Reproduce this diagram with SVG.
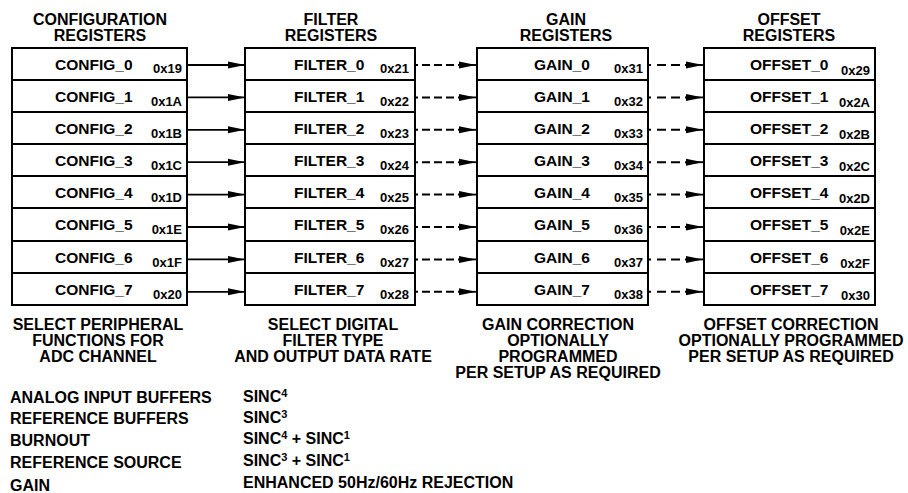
<svg xmlns="http://www.w3.org/2000/svg" width="908" height="493" viewBox="0 0 908 493">
<style>
text{font-family:"Liberation Sans",Arial,sans-serif;font-weight:bold;fill:#000}
.t{font-size:16px;text-anchor:middle}
.n{font-size:15.5px}
.h{font-size:13px;text-anchor:end}
.b{font-size:16px}
.sup{font-size:11px}
.box{fill:#fff;stroke:#000;stroke-width:2}
.div{stroke:#000;stroke-width:2}
.sol{stroke:#000;stroke-width:1.8;fill:none}
.dsh{stroke:#000;stroke-width:2;fill:none;stroke-dasharray:8 4;stroke-dashoffset:5}
.dsh2{stroke:#000;stroke-width:2;fill:none;stroke-dasharray:3 6 9 5 9 5}
</style>
<defs>
<marker id="ah" markerWidth="17" markerHeight="8" refX="17" refY="4" orient="auto" markerUnits="userSpaceOnUse">
<path d="M0,0.5 L17,4 L0,7.5 Z" fill="#000"/>
</marker>
</defs>

<g id="titles">
<text class="t" x="100" y="25">CONFIGURATION</text>
<text class="t" x="100" y="41">REGISTERS</text>
<text class="t" x="331" y="25">FILTER</text>
<text class="t" x="331" y="41">REGISTERS</text>
<text class="t" x="566" y="25">GAIN</text>
<text class="t" x="566" y="41">REGISTERS</text>
<text class="t" x="789" y="25">OFFSET</text>
<text class="t" x="789" y="41">REGISTERS</text>
</g>

<g id="config">
<rect class="box" x="12" y="48" width="175" height="257"/>
<path class="div" d="M12,80H187M12,112H187M12,144H187M12,176H187M12,208H187M12,241H187M12,273H187"/>
<text class="n" x="55" y="70">CONFIG_0</text><text class="h" x="182" y="73">0x19</text>
<text class="n" x="55" y="102">CONFIG_1</text><text class="h" x="182" y="106">0x1A</text>
<text class="n" x="55" y="134">CONFIG_2</text><text class="h" x="182" y="138">0x1B</text>
<text class="n" x="55" y="166">CONFIG_3</text><text class="h" x="182" y="170">0x1C</text>
<text class="n" x="55" y="198">CONFIG_4</text><text class="h" x="182" y="202">0x1D</text>
<text class="n" x="55" y="230">CONFIG_5</text><text class="h" x="182" y="234">0x1E</text>
<text class="n" x="55" y="263">CONFIG_6</text><text class="h" x="182" y="267">0x1F</text>
<text class="n" x="55" y="295">CONFIG_7</text><text class="h" x="182" y="299">0x20</text>
</g>

<g id="filter">
<rect class="box" x="245" y="48" width="170" height="257"/>
<path class="div" d="M245,80H415M245,112H415M245,144H415M245,176H415M245,208H415M245,241H415M245,273H415"/>
<text class="n" x="294" y="70">FILTER_0</text><text class="h" x="409" y="73">0x21</text>
<text class="n" x="294" y="102">FILTER_1</text><text class="h" x="409" y="106">0x22</text>
<text class="n" x="294" y="134">FILTER_2</text><text class="h" x="409" y="138">0x23</text>
<text class="n" x="294" y="166">FILTER_3</text><text class="h" x="409" y="170">0x24</text>
<text class="n" x="294" y="198">FILTER_4</text><text class="h" x="409" y="202">0x25</text>
<text class="n" x="294" y="230">FILTER_5</text><text class="h" x="409" y="234">0x26</text>
<text class="n" x="294" y="263">FILTER_6</text><text class="h" x="409" y="267">0x27</text>
<text class="n" x="294" y="295">FILTER_7</text><text class="h" x="409" y="299">0x28</text>
</g>

<g id="gain">
<rect class="box" x="477" y="48" width="171" height="257"/>
<path class="div" d="M477,80H648M477,112H648M477,144H648M477,176H648M477,208H648M477,241H648M477,273H648"/>
<text class="n" x="534" y="70">GAIN_0</text><text class="h" x="643" y="73">0x31</text>
<text class="n" x="534" y="102">GAIN_1</text><text class="h" x="643" y="106">0x32</text>
<text class="n" x="534" y="134">GAIN_2</text><text class="h" x="643" y="138">0x33</text>
<text class="n" x="534" y="166">GAIN_3</text><text class="h" x="643" y="170">0x34</text>
<text class="n" x="534" y="198">GAIN_4</text><text class="h" x="643" y="202">0x35</text>
<text class="n" x="534" y="230">GAIN_5</text><text class="h" x="643" y="234">0x36</text>
<text class="n" x="534" y="263">GAIN_6</text><text class="h" x="643" y="267">0x37</text>
<text class="n" x="534" y="295">GAIN_7</text><text class="h" x="643" y="299">0x38</text>
</g>

<g id="offset">
<rect class="box" x="704" y="48" width="171" height="257"/>
<path class="div" d="M704,80H875M704,112H875M704,144H875M704,176H875M704,208H875M704,241H875M704,273H875"/>
<text class="n" x="750" y="70">OFFSET_0</text><text class="h" x="870" y="75">0x29</text>
<text class="n" x="750" y="102">OFFSET_1</text><text class="h" x="870" y="107">0x2A</text>
<text class="n" x="750" y="134">OFFSET_2</text><text class="h" x="870" y="139">0x2B</text>
<text class="n" x="750" y="166">OFFSET_3</text><text class="h" x="870" y="171">0x2C</text>
<text class="n" x="750" y="198">OFFSET_4</text><text class="h" x="870" y="203">0x2D</text>
<text class="n" x="750" y="230">OFFSET_5</text><text class="h" x="870" y="235">0x2E</text>
<text class="n" x="750" y="263">OFFSET_6</text><text class="h" x="870" y="268">0x2F</text>
<text class="n" x="750" y="295">OFFSET_7</text><text class="h" x="870" y="300">0x30</text>
</g>

<g id="connectors">
<path class="sol" marker-end="url(#ah)" d="M187,65H245"/>
<path class="sol" marker-end="url(#ah)" d="M187,97.4H245"/>
<path class="sol" marker-end="url(#ah)" d="M187,129.8H245"/>
<path class="sol" marker-end="url(#ah)" d="M187,162.2H245"/>
<path class="sol" marker-end="url(#ah)" d="M187,194.6H245"/>
<path class="sol" marker-end="url(#ah)" d="M187,227H245"/>
<path class="sol" marker-end="url(#ah)" d="M187,259.4H245"/>
<path class="sol" marker-end="url(#ah)" d="M187,291.8H245"/>

<path class="dsh" d="M415,65H459"/><path class="sol" marker-end="url(#ah)" d="M459,65H476"/>
<path class="dsh" d="M415,97.4H459"/><path class="sol" marker-end="url(#ah)" d="M459,97.4H476"/>
<path class="dsh" d="M415,129.8H459"/><path class="sol" marker-end="url(#ah)" d="M459,129.8H476"/>
<path class="dsh" d="M415,162.2H459"/><path class="sol" marker-end="url(#ah)" d="M459,162.2H476"/>
<path class="dsh" d="M415,194.6H459"/><path class="sol" marker-end="url(#ah)" d="M459,194.6H476"/>
<path class="dsh" d="M415,227H459"/><path class="sol" marker-end="url(#ah)" d="M459,227H476"/>
<path class="dsh" d="M415,259.4H459"/><path class="sol" marker-end="url(#ah)" d="M459,259.4H476"/>
<path class="dsh" d="M415,291.8H459"/><path class="sol" marker-end="url(#ah)" d="M459,291.8H476"/>

<path class="dsh2" d="M648,65H686"/><path class="sol" marker-end="url(#ah)" d="M686,65H703"/>
<path class="dsh2" d="M648,97.4H686"/><path class="sol" marker-end="url(#ah)" d="M686,97.4H703"/>
<path class="dsh2" d="M648,129.8H686"/><path class="sol" marker-end="url(#ah)" d="M686,129.8H703"/>
<path class="dsh2" d="M648,162.2H686"/><path class="sol" marker-end="url(#ah)" d="M686,162.2H703"/>
<path class="dsh2" d="M648,194.6H686"/><path class="sol" marker-end="url(#ah)" d="M686,194.6H703"/>
<path class="dsh2" d="M648,227H686"/><path class="sol" marker-end="url(#ah)" d="M686,227H703"/>
<path class="dsh2" d="M648,259.4H686"/><path class="sol" marker-end="url(#ah)" d="M686,259.4H703"/>
<path class="dsh2" d="M648,291.8H686"/><path class="sol" marker-end="url(#ah)" d="M686,291.8H703"/>
</g>

<g id="descriptions">
<text class="t" x="98" y="330">SELECT PERIPHERAL</text>
<text class="t" x="98" y="346">FUNCTIONS FOR</text>
<text class="t" x="98" y="362">ADC CHANNEL</text>
<text class="t" x="333" y="330">SELECT DIGITAL</text>
<text class="t" x="333" y="346">FILTER TYPE</text>
<text class="t" x="333" y="362">AND OUTPUT DATA RATE</text>
<text class="t" x="558" y="330">GAIN CORRECTION</text>
<text class="t" x="558" y="346">OPTIONALLY</text>
<text class="t" x="558" y="362">PROGRAMMED</text>
<text class="t" x="558" y="378">PER SETUP AS REQUIRED</text>
<text class="t" x="791" y="330">OFFSET CORRECTION</text>
<text class="t" x="791" y="346">OPTIONALLY PROGRAMMED</text>
<text class="t" x="791" y="362">PER SETUP AS REQUIRED</text>
</g>

<g id="lists">
<text class="b" x="10" y="403">ANALOG INPUT BUFFERS</text>
<text class="b" x="10" y="424">REFERENCE BUFFERS</text>
<text class="b" x="10" y="446">BURNOUT</text>
<text class="b" x="10" y="468">REFERENCE SOURCE</text>
<text class="b" x="10" y="491">GAIN</text>
<text class="b" x="243" y="402">SINC<tspan class="sup" dy="-5">4</tspan></text>
<text class="b" x="243" y="423">SINC<tspan class="sup" dy="-5">3</tspan></text>
<text class="b" x="243" y="444">SINC<tspan class="sup" dy="-5">4</tspan><tspan dy="5"> + SINC</tspan><tspan class="sup" dy="-5">1</tspan></text>
<text class="b" x="243" y="466">SINC<tspan class="sup" dy="-5">3</tspan><tspan dy="5"> + SINC</tspan><tspan class="sup" dy="-5">1</tspan></text>
<text class="b" x="243" y="488">ENHANCED 50Hz/60Hz REJECTION</text>
</g>
</svg>
